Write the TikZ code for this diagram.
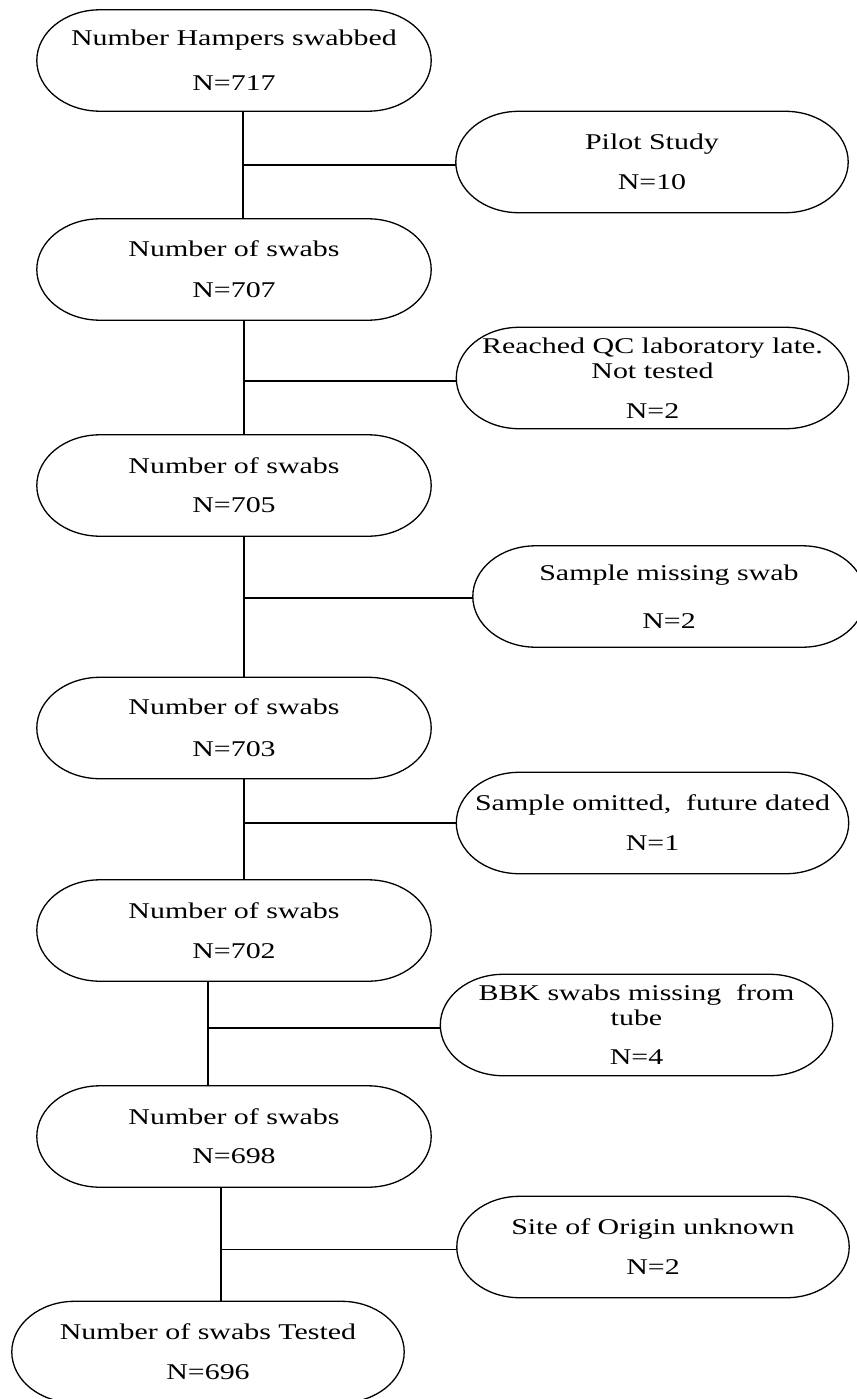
\documentclass[tikz,border=0pt]{standalone}
\usepackage{fontspec}
\newfontfamily\tnr[FakeStretch=1.33]{Liberation Serif}
\usetikzlibrary{calc}
\begin{document}
\begin{tikzpicture}[x=1pt,y=1pt,
  term/.style={minimum width=394pt, minimum height=101pt, inner sep=0pt,
    align=center, font=\tnr\fontsize{22.5}{25}\selectfont},
  rterm/.style={term, minimum width=392pt},
  outline/.style={draw=black, line width=1.3pt},
  conn/.style={draw=black, line width=1.3pt}]
\useasboundingbox (0,0) rectangle (856,-1399);
% main column
\node[term] (L1) at (234,-60.5) {Number Hampers swabbed\\[20pt]N=717};
\node[term] (L2) at (234,-269.5) {Number of swabs\\[16pt]N=707};
\node[term] (L3) at (234,-485.5) {Number of swabs\\[14pt]N=705};
\node[term] (L4) at (234,-728) {Number of swabs\\[17pt]N=703};
\node[term] (L5) at (234,-930.5) {Number of swabs\\[15pt]N=702};
\node[term] (L6) at (234,-1136.5) {Number of swabs\\[14pt]N=698};
\node[term, minimum width=392pt] (L7) at (208,-1352) {Number of swabs Tested\\[15pt]N=696};
% exclusions
\node[rterm] (A) at (652,-162) {Pilot Study\\[15pt]N=10};
\node[rterm] (B) at (652.5,-378) {Reached QC laboratory late.\\Not tested\\[15pt]N=2};
\node[rterm] (C) at (669,-596.5) {Sample missing swab\\[23pt]N=2};
\node[rterm] (D) at (652.5,-823) {Sample omitted,~ future dated\\[15pt]N=1};
\node[rterm] (E) at (636.5,-1025) {BBK swabs missing~ from\\tube\\[14pt]N=4};
\node[rterm] (F) at (653,-1247) {Site of Origin unknown\\[15pt]N=2};
% terminator outlines
\foreach \nd in {L1,L2,L3,L4,L5,L6,L7,A,B,C,D,E,F}{
  \draw[outline] let \p1=(\nd.north west), \p2=(\nd.south east),
    \n1={0.16*(\x2-\x1)}, \n2={0.5*(\y1-\y2)} in
    (\x1+\n1,\y1) -- (\x2-\n1,\y1)
    arc[start angle=90, end angle=-90, x radius=\n1, y radius=\n2]
    -- (\x1+\n1,\y2)
    arc[start angle=270, end angle=90, x radius=\n1, y radius=\n2]
    -- cycle;
}
% junctions
\coordinate (j1) at (243,-165);
\coordinate (j2) at (244,-381);
\coordinate (j3) at (244,-598);
\coordinate (j4) at (244,-823);
\coordinate (j5) at (208,-1028);
\coordinate (j6) at (221,-1249.5);
% trunk
\draw[conn] (L1.south -| j1) -- (L2.north -| j1);
\draw[conn] (L2.south -| j2) -- (L3.north -| j2);
\draw[conn] (L3.south -| j3) -- (L4.north -| j3);
\draw[conn] (L4.south -| j4) -- (L5.north -| j4);
\draw[conn] (L5.south -| j5) -- (L6.north -| j5);
\draw[conn] (L6.south -| j6) -- (L7.north -| j6);
% branches
\draw[conn] (j1) -- (j1 -| A.west);
\draw[conn] (j2) -- (j2 -| B.west);
\draw[conn] (j3) -- (j3 -| C.west);
\draw[conn] (j4) -- (j4 -| D.west);
\draw[conn] (j5) -- (j5 -| E.west);
\draw[conn] (j6) -- (j6 -| F.west);
\end{tikzpicture}
\end{document}
